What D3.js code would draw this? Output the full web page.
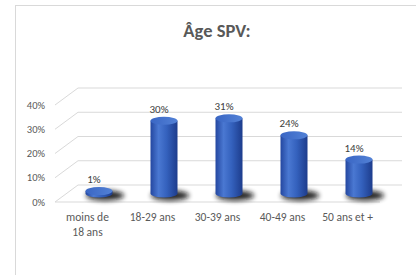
<!DOCTYPE html>
<html>
<head>
<meta charset="utf-8">
<script src="https://cdn.jsdelivr.net/npm/d3@7"></script>
<style>
  html, body { margin: 0; padding: 0; background: #fff; }
  svg { display: block; font-family: Carlito, Lato, "Open Sans", sans-serif; }
</style>
</head>
<body>
<script>
// data
const categories = ["moins de\n18 ans", "18-29 ans", "30-39 ans", "40-49 ans", "50 ans et +"];
const values = [0.01, 0.30, 0.31, 0.24, 0.14];
const ticks = [0, 0.1, 0.2, 0.3, 0.4];

const width = 416, height = 275;
const depthX = 23, depthY = -17;   // offset of the back wall

const svg = d3.select("body").append("svg")
    .attr("width", width)
    .attr("height", height);

const defs = svg.append("defs");
const grad = defs.append("linearGradient")
    .attr("id", "cyl")
    .attr("x1", 0).attr("x2", 1).attr("y1", 0).attr("y2", 0);
grad.append("stop").attr("offset", "0%").attr("stop-color", "#2447a0");
grad.append("stop").attr("offset", "30%").attr("stop-color", "#4a78d2");
grad.append("stop").attr("offset", "60%").attr("stop-color", "#3461bd");
grad.append("stop").attr("offset", "100%").attr("stop-color", "#1d3c8c");

const capGrad = defs.append("linearGradient")
    .attr("id", "cap")
    .attr("x1", 0).attr("x2", 1).attr("y1", 0).attr("y2", 0);
capGrad.append("stop").attr("offset", "0%").attr("stop-color", "#3a66c4");
capGrad.append("stop").attr("offset", "100%").attr("stop-color", "#5281d6");

defs.append("filter").attr("id", "blur")
    .attr("x", "-50%").attr("y", "-100%").attr("width", "200%").attr("height", "300%")
  .append("feGaussianBlur").attr("stdDeviation", 2.5);

// frame
svg.append("rect")
    .attr("x", 15.5).attr("y", 5.5)
    .attr("width", 420).attr("height", 280)
    .attr("fill", "none")
    .attr("stroke", "#d9d9d9");

svg.append("text")
    .attr("x", 217).attr("y", 37)
    .attr("text-anchor", "middle")
    .attr("font-size", 18.5)
    .attr("font-weight", "bold")
    .attr("fill", "#595959")
    .text("Âge SPV:");

const x = d3.scaleBand().domain(categories).range([55, 380]);
const y = d3.scaleLinear().domain([0, 0.4]).range([202, 105]);

// grid: back wall lines, side diagonals, front floor edge
const grid = svg.append("g").attr("stroke", "#d9d9d9").attr("stroke-width", 1).attr("fill", "none");
grid.selectAll(".back").data(ticks).join("line")
    .attr("x1", x.range()[0] + depthX).attr("x2", x.range()[1] + depthX - 1)
    .attr("y1", d => y(d) + depthY).attr("y2", d => y(d) + depthY);
grid.selectAll(".side").data(ticks).join("line")
    .attr("x1", x.range()[0]).attr("y1", d => y(d))
    .attr("x2", x.range()[0] + depthX).attr("y2", d => y(d) + depthY);
grid.append("line")
    .attr("x1", x.range()[0]).attr("x2", x.range()[1])
    .attr("y1", y(0)).attr("y2", y(0));

// y tick labels
svg.append("g").selectAll("text").data(ticks).join("text")
    .attr("x", 45).attr("y", d => y(d))
    .attr("dy", "0.35em")
    .attr("text-anchor", "end")
    .attr("font-size", 10.5)
    .attr("fill", "#595959")
    .text(d => d3.format(".0%")(d));

// x labels
const xl = svg.append("g").selectAll("text").data(categories).join("text")
    .attr("x", d => x(d) + x.bandwidth() / 2)
    .attr("y", 221)
    .attr("text-anchor", "middle")
    .attr("font-size", 11.5)
    .attr("fill", "#595959");
xl.selectAll("tspan").data(d => d.split("\n")).join("tspan")
    .attr("x", function() { return this.parentNode.getAttribute("x"); })
    .attr("dy", (d, i) => i ? 14.5 : 0)
    .text(d => d);

// cylinders
const rx = 13.5, ry = 4;
const bars = svg.append("g").selectAll("g").data(categories).join("g")
    .attr("transform", d => `translate(${x(d) + x.bandwidth() / 2 + depthX / 2},0)`);

bars.append("ellipse")
    .attr("cx", 6).attr("cy", y(0) + depthY / 2 + 2)
    .attr("rx", 19).attr("ry", 5)
    .attr("fill", "#111")
    .attr("opacity", 0.9)
    .attr("filter", "url(#blur)");

bars.append("path")
    .attr("fill", "url(#cyl)")
    .attr("d", (d, i) => {
      const yb = y(0) + depthY / 2, yt = y(values[i]) + depthY / 2;
      return `M${-rx},${yt} L${-rx},${yb} A${rx},${ry} 0 0 0 ${rx},${yb} L${rx},${yt} Z`;
    });

bars.append("ellipse")
    .attr("cx", 0).attr("cy", (d, i) => y(values[i]) + depthY / 2)
    .attr("rx", rx).attr("ry", ry)
    .attr("fill", "url(#cap)");

bars.append("text")
    .attr("x", -5)
    .attr("y", (d, i) => y(values[i]) + depthY / 2 - 8)
    .attr("text-anchor", "middle")
    .attr("font-size", 11)
    .attr("fill", "#404040")
    .text((d, i) => d3.format(".0%")(values[i]));
</script>
</body>
</html>
